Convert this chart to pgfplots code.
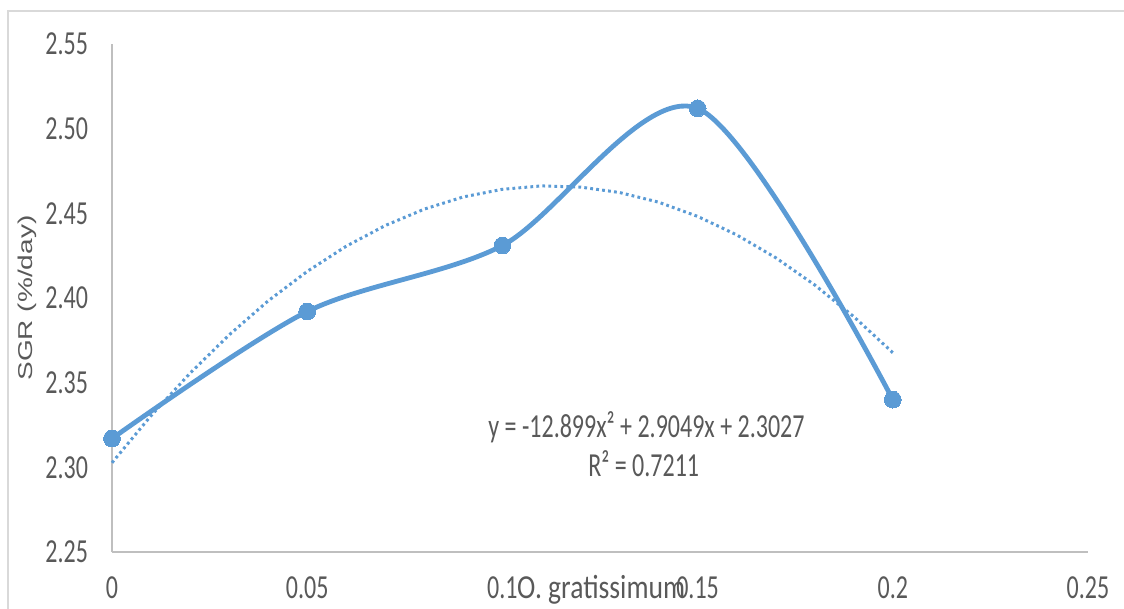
\documentclass[border=0pt]{standalone}
\usepackage{fontspec}
\setmainfont{Carlito}
\newfontfamily\arialf{Liberation Sans}
\usepackage{graphicx}
\usepackage{pgfplots}
\pgfplotsset{compat=1.18}
\definecolor{cLine}{HTML}{5B9BD5}
\definecolor{cAxis}{HTML}{BFBFBF}
\definecolor{cText}{HTML}{595959}
\definecolor{cFrame}{HTML}{D9D9D9}
% glyphs in the reference are stretched vertically
\newcommand{\vs}[1]{\scalebox{1}[1.4]{#1}}

\begin{document}
\begin{tikzpicture}
\useasboundingbox (0,0) rectangle (562pt,-304.5pt);
\draw[cFrame,line width=0.8pt] (4pt,-310pt) -- (4pt,-5.5pt) -- (570pt,-5.5pt);
\begin{axis}[at={(56pt,-276pt)},anchor=south west,
  scale only axis,width=488pt,height=254pt,
  xmin=0,xmax=0.25,ymin=2.25,ymax=2.55,
  axis lines=left,axis line style={-,cAxis,line width=0.8pt},
  major tick length=0pt,clip=false,
  xtick={0,0.05,0.1,0.15,0.2,0.25},
  xticklabels={\vs{0},\vs{0.05},\vs{0.1},\vs{0.15},\vs{0.2},\vs{0.25}},
  ytick={2.25,2.30,2.35,2.40,2.45,2.50,2.55},
  yticklabels={\vs{2.25},\vs{2.30},\vs{2.35},\vs{2.40},\vs{2.45},\vs{2.50},\vs{2.55}},
  tick label style={font=\fontsize{12}{14}\selectfont,text=cText},
  xticklabel style={anchor=base,yshift=-23pt},
  yticklabel style={anchor=east,xshift=-8.5pt},
]
% polynomial trendline (order 2)
\addplot[cLine,line width=1.5pt,dash pattern=on 1.4pt off 1.6pt] coordinates {
  (0,2.3027) (0.01,2.3305) (0.02,2.3556) (0.03,2.3782) (0.04,2.3983)
  (0.05,2.4157) (0.06,2.4306) (0.07,2.4428) (0.08,2.4525) (0.09,2.4597)
  (0.10,2.4642) (0.11,2.4662) (0.12,2.4655) (0.13,2.4623) (0.14,2.4566)
  (0.15,2.4482) (0.16,2.4373) (0.17,2.4238) (0.18,2.4077) (0.19,2.3890)
  (0.20,2.3677)};
% measured SGR
\addplot[cLine,line width=2.4pt,smooth,mark=*,mark size=4.2pt,
  mark options={fill=cLine,draw=cLine,line width=0pt}] coordinates {
  (0,2.317) (0.05,2.392) (0.1,2.431) (0.15,2.512) (0.2,2.340)};
\node[anchor=base,yshift=-23pt,font=\fontsize{12}{14}\selectfont,text=cText]
  at (axis cs:0.1253,2.25) {\scalebox{1.15}[1.4]{O. gratissimum}};
\node[rotate=90,font=\arialf\fontsize{10}{12}\selectfont,text=cText]
  at ([xshift=-42.5pt]rel axis cs:0,0.5) {\scalebox{1.4}[1]{SGR (\%/day)}};
\node[font=\fontsize{12}{14}\selectfont,text=cText,inner sep=0pt]
  at (axis cs:0.1369,2.3238) {\vs{y = -12.899x² + 2.9049x + 2.3027}};
\node[font=\fontsize{12}{14}\selectfont,text=cText,inner sep=0pt]
  at (axis cs:0.1362,2.302) {\vs{R² = 0.7211}};
\end{axis}
\end{tikzpicture}
\end{document}
